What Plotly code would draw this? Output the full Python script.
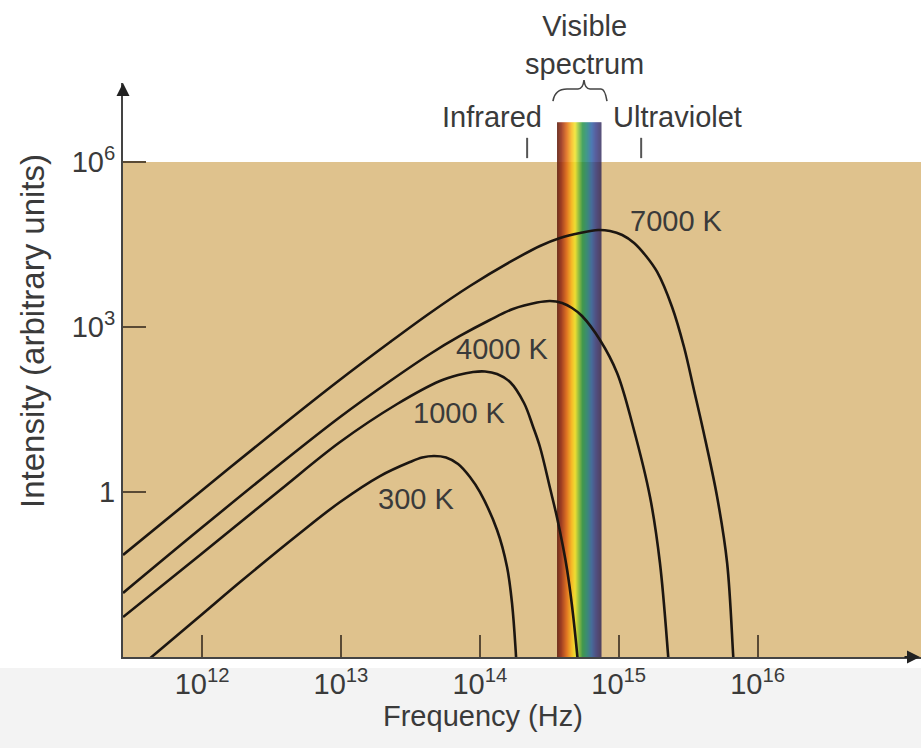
import numpy as np
import plotly.graph_objects as go

# Blackbody emission curves: frequency (Hz) vs intensity (arbitrary units)
freq_7000 = [2.70e11, 9.68e11, 3.65e12, 9.38e12, 2.26e13, 4.38e13, 8.49e13, 1.65e14,
             2.71e14, 3.78e14, 5.26e14, 7.10e14, 8.65e14, 1.06e15, 1.29e15, 1.57e15,
             1.89e15, 2.42e15, 2.95e15, 3.48e15, 4.05e15, 5.11e15, 6.03e15, 6.65e15,
             6.79e15]
int_7000 = [0.0716, 1.0, 15.2, 100, 533, 1798, 5559, 15210,
            29720, 41500, 51170, 58080, 55630, 47100, 33650, 19540,
            10000, 2312, 432.5, 71.6, 13.4, 0.811, 0.0512, 0.00118,
            0.000471]

freq_4000 = [2.70e11, 9.68e11, 3.65e12, 9.86e12, 2.26e13, 4.38e13, 7.19e13, 1.18e14,
             1.73e14, 2.58e14, 3.20e14, 3.91e14, 4.61e14, 5.44e14, 7.33e14, 9.73e14,
             1.27e15, 1.68e15, 1.98e15, 2.26e15, 2.32e15]
int_4000 = [0.0146, 0.212, 3.23, 23.1, 104.2, 323, 686, 1340,
            2123, 2786, 2972, 2729, 2213, 1585, 580.8, 145.9,
            15.2, 0.811, 0.0512, 0.00118, 0.000471]

freq_1000 = [2.70e11, 9.68e11, 3.65e12, 9.86e12, 2.54e13, 5.16e13, 6.97e13, 8.93e13,
             1.09e14, 1.33e14, 1.65e14, 2.08e14, 2.42e14, 2.71e14, 3.20e14, 3.60e14,
             4.25e14, 5.01e14, 5.14e14]
int_1000 = [0.00533, 0.0716, 1.09, 8.11, 39.8, 104.3, 134, 152,
            155.2, 139.6, 100, 41.5, 15.2, 6.58, 1.18, 0.337,
            0.0382, 0.00118, 0.000471]

freq_300 = [4.08e11, 9.68e11, 1.88e12, 5.08e12, 9.86e12, 1.91e13, 3.14e13, 3.84e13,
            4.68e13, 5.71e13, 6.97e13, 8.49e13, 1.00e14, 1.33e14, 1.57e14, 1.71e14,
            1.81e14, 1.84e14]
int_300 = [0.000881, 0.00556, 0.0231, 0.180, 0.658, 1.95, 3.51, 4.24,
           4.52, 4.24, 3.23, 1.875, 1.0, 0.204, 0.0433, 0.00881,
           0.00134, 0.000631]

curves = [
    ("7000 K", freq_7000, int_7000),
    ("4000 K", freq_4000, int_4000),
    ("1000 K", freq_1000, int_1000),
    ("300 K", freq_300, int_300),
]

# Curve label anchor points (log10 frequency, log10 intensity)
label_pos = {"7000 K": (15.413, 4.927), "4000 K": (14.16, 2.60),
             "1000 K": (13.857, 1.436), "300 K": (13.541, -0.127)}

# Visible band and region markers
visible_band = [3.6e14, 7.5e14]
visible_top = 5.3e6
infrared_mark = 2.19e14
ultraviolet_mark = 1.45e15
marker_span = [1.175e6, 2.75e6]

x_ticks = [1e12, 1e13, 1e14, 1e15, 1e16]
x_ticktext = ["10<sup>12</sup>", "10<sup>13</sup>", "10<sup>14</sup>", "10<sup>15</sup>", "10<sup>16</sup>"]
y_ticks = [1, 1e3, 1e6]
y_ticktext = ["1", "10<sup>3</sup>", "10<sup>6</sup>"]

TAN = "#DFC28D"
INK = "#3a3a3a"
LINE = "#1c1611"
FONT = "Liberation Sans, Arial, Helvetica, sans-serif"
FS = 29

fig = go.Figure()

for name, fx, iy in curves:
    fig.add_trace(go.Scatter(x=fx, y=iy, mode="lines", name=name,
                             line=dict(color=LINE, width=2.6, shape="spline", smoothing=1.0),
                             hoverinfo="skip"))

shapes = []
# tan panel up to 10^6
shapes.append(dict(type="rect", xref="paper", yref="y", x0=0, x1=1, y0=1e-3, y1=1e6,
                   fillcolor=TAN, line=dict(width=0), layer="below"))
# light strip beneath the axis
shapes.append(dict(type="rect", xref="paper", yref="paper", x0=-0.16, x1=1.01, y0=-0.17, y1=-0.019,
                   fillcolor="#f3f3f3", line=dict(width=0), layer="below"))

# rainbow band for the visible spectrum
stops = [(0.00, (96, 32, 18)), (0.10, (152, 46, 20)), (0.22, (224, 104, 18)),
         (0.33, (248, 182, 20)), (0.41, (240, 228, 32)), (0.50, (120, 184, 48)),
         (0.58, (26, 142, 62)), (0.68, (16, 124, 112)), (0.78, (28, 86, 160)),
         (0.88, (40, 46, 128)), (1.00, (36, 26, 78))]

def band_color(t):
    for (t0, c0), (t1, c1) in zip(stops[:-1], stops[1:]):
        if t <= t1:
            f = (t - t0) / (t1 - t0)
            return "rgb(%d,%d,%d)" % tuple(round(a + (b - a) * f) for a, b in zip(c0, c1))
    return "rgb(%d,%d,%d)" % stops[-1][1]

n_strips = 44
edges = np.logspace(np.log10(visible_band[0]), np.log10(visible_band[1]), n_strips + 1)
for i in range(n_strips):
    shapes.append(dict(type="rect", xref="x", yref="y", x0=edges[i], x1=edges[i + 1],
                       y0=1e-3, y1=visible_top, fillcolor=band_color((i + 0.5) / n_strips),
                       line=dict(width=0), layer="below"))

for xm in (infrared_mark, ultraviolet_mark):
    shapes.append(dict(type="line", xref="x", yref="y", x0=xm, x1=xm,
                       y0=marker_span[0], y1=marker_span[1], line=dict(color="#555", width=2)))

# curly brace over the visible band
shapes.append(dict(type="path", xref="paper", yref="paper",
                   path="M 0.5388,0.9686 Q 0.5414,0.9895 0.5564,0.9895 L 0.5702,0.9895 "
                        "Q 0.5764,0.9895 0.5777,1.0052 Q 0.5789,0.9895 0.5852,0.9895 "
                        "L 0.5990,0.9895 Q 0.6040,0.9895 0.6065,0.9686",
                   line=dict(color="#444", width=1.6)))

annotations = []
for name, (lx, ly) in label_pos.items():
    annotations.append(dict(x=lx, y=ly, xref="x", yref="y", text=name, showarrow=False,
                            xanchor="center", yanchor="middle",
                            font=dict(size=FS, color=INK, family=FONT)))

def note(text, x, y, xanchor="center", angle=0, size=FS):
    return dict(x=x, y=y, xref="paper", yref="paper", text=text, showarrow=False,
                xanchor=xanchor, yanchor="middle", textangle=angle,
                font=dict(size=size, color=INK, family=FONT))

annotations += [
    note("Visible<br>spectrum", 0.5777, 1.067),
    note("Infrared", 0.527, 0.941, xanchor="right"),
    note("Ultraviolet", 0.612, 0.941, xanchor="left"),
    note("Frequency (Hz)", 0.451, -0.1028),
    note("Intensity (arbitrary units)", -0.1128, 0.568, angle=-90, size=33),
    # axis arrowheads
    dict(x=0, y=1, xref="paper", yref="paper", ax=0, ay=22, showarrow=True,
         arrowhead=2, arrowsize=1.3, arrowwidth=2, arrowcolor="#222"),
    dict(x=1, y=0, xref="paper", yref="paper", ax=-22, ay=0, showarrow=True,
         arrowhead=2, arrowsize=1.3, arrowwidth=2, arrowcolor="#222"),
]

fig.update_layout(
    width=921, height=748,
    margin=dict(l=123, r=0, t=83, b=91),
    paper_bgcolor="white", plot_bgcolor="white",
    showlegend=False,
    font=dict(family=FONT, size=FS, color=INK),
    shapes=shapes, annotations=annotations,
    xaxis=dict(type="log", range=[11.431, 17.176], showgrid=False, zeroline=False,
               showline=True, linecolor="#444", linewidth=2,
               ticks="inside", ticklen=22, tickwidth=2, tickcolor="#5a4a35",
               tickmode="array", tickvals=x_ticks, ticktext=x_ticktext,
               tickfont=dict(size=FS, color=INK, family=FONT)),
    yaxis=dict(type="log", range=[-3, 7.436], showgrid=False, zeroline=False,
               showline=True, linecolor="#444", linewidth=2,
               ticks="inside", ticklen=23, tickwidth=2, tickcolor="#5a4a35",
               tickmode="array", tickvals=y_ticks, ticktext=y_ticktext,
               tickfont=dict(size=FS, color=INK, family=FONT)),
)

fig.write_html("out.html")
